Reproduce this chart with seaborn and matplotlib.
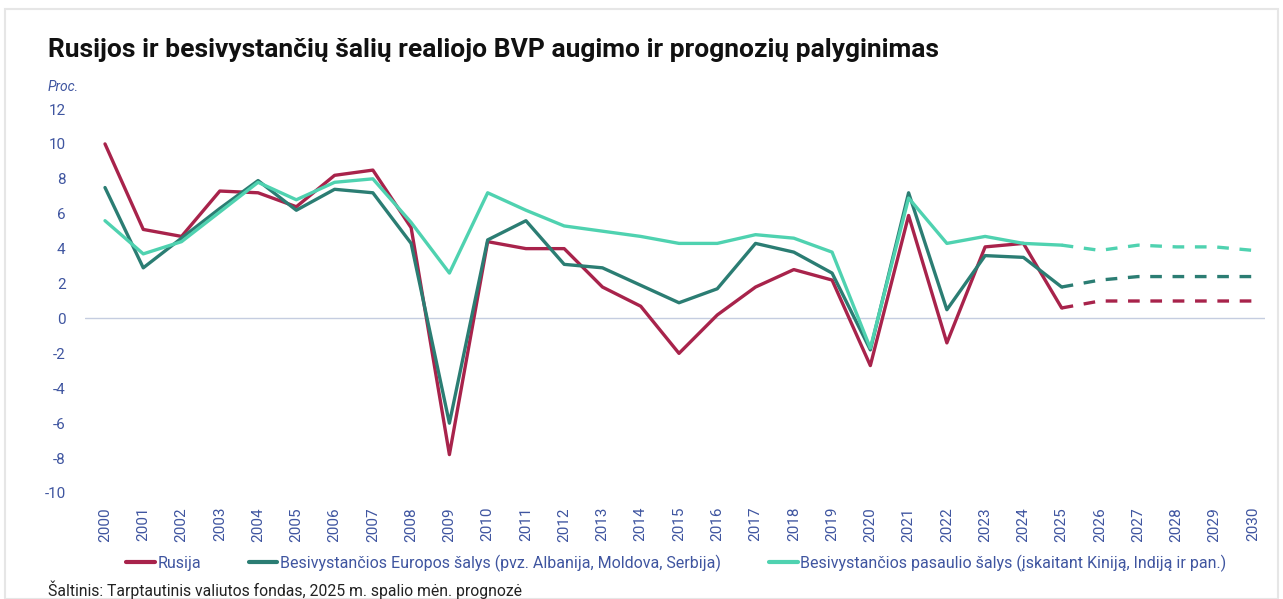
import matplotlib
matplotlib.use("Agg")
import matplotlib.pyplot as plt
from matplotlib.lines import Line2D
from matplotlib.patches import Rectangle
import seaborn as sns
import pandas as pd
import numpy as np

years = list(range(2000, 2031))
rusija = [10.0, 5.1, 4.7, 7.3, 7.2, 6.4, 8.2, 8.5, 5.2, -7.8, 4.4, 4.0, 4.0, 1.8, 0.7, -2.0,
          0.2, 1.8, 2.8, 2.2, -2.7, 5.9, -1.4, 4.1, 4.3, 0.6, 1.0, 1.0, 1.0, 1.0, 1.0]
europa = [7.5, 2.9, 4.6, 6.3, 7.9, 6.2, 7.4, 7.2, 4.3, -6.0, 4.5, 5.6, 3.1, 2.9, 1.9, 0.9,
          1.7, 4.3, 3.8, 2.6, -1.8, 7.2, 0.5, 3.6, 3.5, 1.8, 2.2, 2.4, 2.4, 2.4, 2.4]
pasaulis = [5.6, 3.7, 4.4, 6.1, 7.8, 6.8, 7.8, 8.0, 5.5, 2.6, 7.2, 6.2, 5.3, 5.0, 4.7, 4.3,
            4.3, 4.8, 4.6, 3.8, -1.7, 6.9, 4.3, 4.7, 4.3, 4.2, 3.9, 4.2, 4.1, 4.1, 3.9]
last_actual = 2025

series_names = ["Rusija",
                "Besivystančios Europos šalys (pvz. Albanija, Moldova, Serbija)",
                "Besivystančios pasaulio šalys (įskaitant Kiniją, Indiją ir pan.)"]
colors = ["#A8234B", "#2B7D73", "#4FD2B0"]
title = "Rusijos ir besivystančių šalių realiojo BVP augimo ir prognozių palyginimas"
unit = "Proc."
source = "Šaltinis: Tarptautinis valiutos fondas, 2025 m. spalio mėn. prognozė"
yticks = list(range(-10, 13, 2))

rows = []
for name, vals in zip(series_names, [rusija, europa, pasaulis]):
    for y, v in zip(years, vals):
        rows.append({"year": y, "value": v, "series": name})
df = pd.DataFrame(rows)

sns.set_theme(style="white")
plt.rcParams['font.family'] = ['Roboto', 'DejaVu Sans']

fig = plt.figure(figsize=(12.83, 5.99), dpi=100)
fig.patches.append(Rectangle((0.004, 0.0), 0.992, 0.985, transform=fig.transFigure,
                             fill=False, edgecolor="#e6e6e6", linewidth=1.5))
ax = fig.add_axes([85 / 1283, 1 - 493 / 599, (1265 - 85) / 1283, 384 / 599])

ax.axhline(0, color="#c5cde0", linewidth=1, zorder=1)

for name, col in zip(series_names, colors):
    d = df[df["series"] == name]
    act = d[d["year"] <= last_actual]
    fc = d[d["year"] >= last_actual]
    sns.lineplot(data=act, x="year", y="value", color=col, linewidth=2.4, ax=ax,
                 legend=False, zorder=3)
    sns.lineplot(data=fc, x="year", y="value", color=col, linewidth=2.4, ax=ax,
                 legend=False, zorder=3, linestyle="--")
    ax.lines[-1].set_dashes((3.5, 3.2))
    ax.lines[-1].set_dash_capstyle("butt")

ax.set_xlim(2000 - 20 / 38.27, 2030 + 12 / 38.27)
ax.set_ylim(-10, 12)
ax.set_yticks(yticks)
ax.set_yticklabels([str(t) for t in yticks])
ax.set_xticks(years)
ax.set_xticklabels([str(y) for y in years], rotation=90)
ax.set_xlabel("")
ax.set_ylabel("")
for s in ax.spines.values():
    s.set_visible(False)
tick_col = "#3F55A0"
ax.tick_params(axis="y", colors=tick_col, labelsize=11, length=0, pad=14)
ax.tick_params(axis="x", colors=tick_col, labelsize=11, length=0, pad=10)
ax.grid(False)

fig.text(48 / 1283, 1 - 50 / 599, title, fontsize=19, fontweight="bold",
         color="#111111", va="center", ha="left")
fig.text(48 / 1283, 1 - 87 / 599, unit, fontsize=10, fontstyle="italic",
         color=tick_col, va="center", ha="left")
fig.text(48 / 1283, 1 - 590 / 599, source, fontsize=11.3, color="#222222",
         va="center", ha="left")

handles = [Line2D([0], [0], color=c, linewidth=3) for c in colors]
leg = fig.legend(handles, series_names, loc="center left",
                 bbox_to_anchor=(126 / 1283, 1 - 563 / 599), ncol=3, frameon=False,
                 handlelength=1.8, handletextpad=0.15, columnspacing=3.0,
                 fontsize=11.5, borderaxespad=0, borderpad=0)
for t in leg.get_texts():
    t.set_color(tick_col)

fig.savefig("out.png", dpi=100, facecolor="white")
